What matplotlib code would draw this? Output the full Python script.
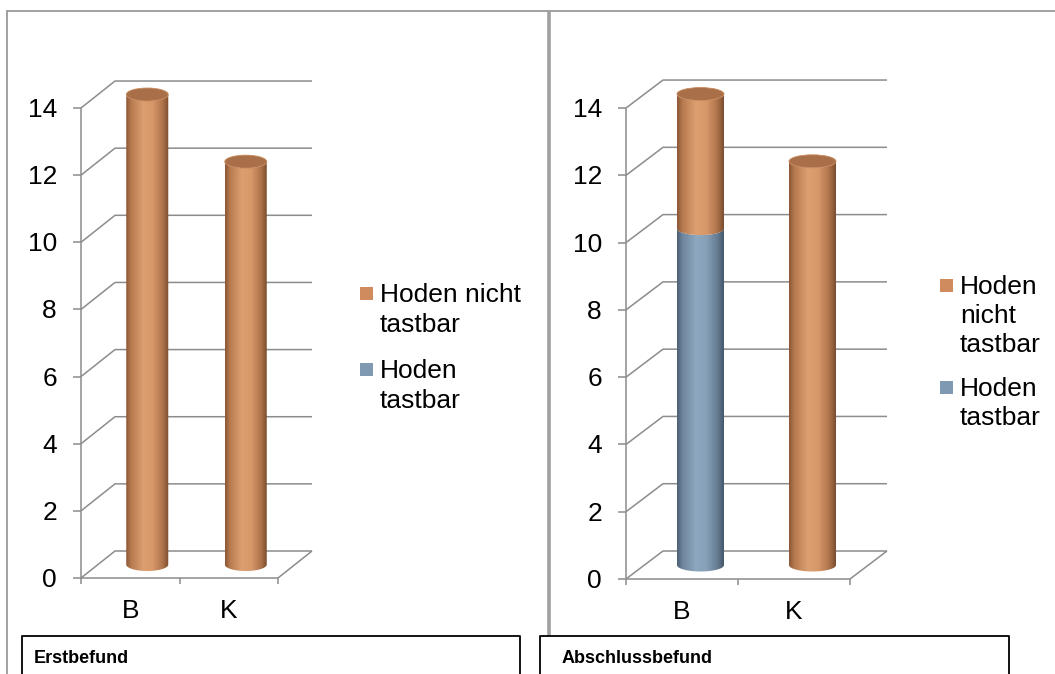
import numpy as np
import matplotlib.pyplot as plt
from matplotlib.patches import Polygon, Ellipse, Rectangle
from matplotlib.colors import LinearSegmentedColormap
from matplotlib.transforms import offset_copy

plt.rcParams['font.family'] = ['Liberation Sans', 'DejaVu Sans']

# data
categories = ['B', 'K']
erst_tastbar = [0, 0]
erst_nicht = [14, 12]
abschluss_tastbar = [10, 0]
abschluss_nicht = [4, 12]
y_ticks = [0, 2, 4, 6, 8, 10, 12, 14]
legend_left = ['Hoden nicht\ntastbar', 'Hoden\ntastbar']
legend_right = ['Hoden\nnicht\ntastbar', 'Hoden\ntastbar']
titles = ['Erstbefund', 'Abschlussbefund']

W, H = 1055, 674
FS = 19
GRID = '#8C8C8C'
orange_cmap = LinearSegmentedColormap.from_list('orange', [
    (0, '#8A5636'), (0.12, '#B87B50'), (0.4, '#DC9F70'), (0.62, '#D8986A'),
    (0.86, '#AE734A'), (1, '#7A4C2E')])
blue_cmap = LinearSegmentedColormap.from_list('blue', [
    (0, '#4C5F73'), (0.12, '#6E869D'), (0.4, '#8DA7C0'), (0.62, '#88A1B9'),
    (0.86, '#667D93'), (1, '#45576A')])
orange_cap = '#A86F48'
legend_colors = ['#CF8B5E', '#7F99B2']

fig = plt.figure(figsize=(W / 100, H / 100), dpi=100)

# background axes in pixel units (y down) for frame, captions and legends
bg = fig.add_axes([0, 0, 1, 1])
bg.set_xlim(0, W)
bg.set_ylim(H, 0)
bg.axis('off')


def cylinder(ax, xc, y0, y1, w, eh, cmap, z, cap=None):
    t = np.linspace(np.pi, 2 * np.pi, 80)
    bot = np.c_[xc + w / 2 * np.cos(t), y0 + eh / 2 * np.sin(t)]
    top = np.c_[xc + w / 2 * np.cos(t[::-1]), y1 + eh / 2 * np.sin(t[::-1])]
    body = Polygon(np.vstack([bot, top]), closed=True, facecolor='none',
                   edgecolor='none', zorder=z)
    ax.add_patch(body)
    grad = np.linspace(0, 1, 256)[None, :]
    im = ax.imshow(grad, cmap=cmap, aspect='auto', origin='lower',
                   extent=[xc - w / 2, xc + w / 2, y0 - eh, y1 + eh],
                   interpolation='bilinear', zorder=z)
    im.set_clip_path(body)
    if cap is not None:
        ax.add_patch(Ellipse((xc, y1), w, eh, facecolor=cap,
                             edgecolor='#C98A5C', lw=0.6, zorder=z + 0.1))


def panel(origin, cat_px, val_px, depth_px, bar_px, tastbar, nicht):
    ox, oy = origin
    xlim = (-0.9, 2.6)
    ylim = (-1.6, 15.6)
    x0 = ox + xlim[0] * cat_px
    y0 = (H - oy) + ylim[0] * val_px
    ax = fig.add_axes([x0 / W, y0 / H, (xlim[1] - xlim[0]) * cat_px / W,
                       (ylim[1] - ylim[0]) * val_px / H])
    ax.axis('off')
    dx = depth_px[0] / cat_px
    dy = depth_px[1] / val_px
    n = len(categories)
    kw = dict(color=GRID, lw=1.1, solid_capstyle='butt', clip_on=False, zorder=1)

    # walls: gridlines run from the front axis to the back wall
    for v in y_ticks:
        ax.plot([0, dx, n + dx], [v, v + dy, v + dy], **kw)
        ax.plot([-8 / cat_px, 0], [v, v], **kw)
        lab = offset_copy(ax.transData, fig, x=-24, y=-9, units='dots')
        ax.text(0, v, str(v), transform=lab, ha='right', va='baseline',
                fontsize=FS)
    ax.plot([0, 0], [0, y_ticks[-1]], **kw)
    ax.plot([0, n, n + dx], [0, 0, dy], **kw)
    for i in range(n + 1):
        ax.plot([i, i], [0, -6 / val_px], **kw)
    for i, c in enumerate(categories):
        lab = offset_copy(ax.transData, fig, x=0, y=-40, units='dots')
        ax.text(i + 0.5, 0, c, transform=lab, ha='center', va='baseline',
                fontsize=FS)

    # cylinders sit halfway into the depth
    w = bar_px / cat_px
    eh = 13 / val_px
    for i in range(n):
        xc = i + 0.5 + dx / 2
        base = dy / 2
        if tastbar[i] > 0:
            cylinder(ax, xc, base, base + tastbar[i], w, eh, blue_cmap, 3)
        if nicht[i] > 0:
            cylinder(ax, xc, base + tastbar[i], base + tastbar[i] + nicht[i],
                     w, eh, orange_cmap, 4, cap=orange_cap)
    ax.set_xlim(xlim)
    ax.set_ylim(ylim)
    return ax


panel((81, 578), 98.5, 33.57, (34, 27), 42, erst_tastbar, erst_nicht)
panel((626, 579), 112, 33.64, (37, 28), 47, abschluss_tastbar, abschluss_nicht)


def legend(x, y, labels, line_px=29.5, gap_px=46):
    for lab, col in zip(labels, legend_colors):
        bg.add_patch(Rectangle((x, y - 15), 13, 13, facecolor=col,
                               edgecolor='none'))
        for line in lab.split('\n'):
            bg.text(x + 20, y, line, fontsize=FS, va='baseline', ha='left')
            y += line_px
        y += gap_px - line_px


legend(360, 302, legend_left, 30, 46)
legend(940, 294, legend_right, 29, 44)

# frame and caption boxes
frame = dict(color='#9A9A9A', lw=1.3, solid_capstyle='butt')
bg.plot([7, W], [10.5, 10.5], **frame)
bg.plot([7, 7], [10, H], **frame)
bg.plot([549, 549], [10, 636], color='#A0A0A0', lw=2.6, solid_capstyle='butt')
box = dict(color='black', lw=1.3, solid_capstyle='projecting')
for (xa, xb), tx, title in zip([(22, 520), (540, 1009)], [34, 562], titles):
    bg.plot([xa, xa, xb, xb], [H + 5, 636, 636, H + 5], **box)
    bg.text(tx, 663, title, fontsize=13, fontweight='bold',
            va='baseline', ha='left')

fig.savefig('out.png', dpi=100)
